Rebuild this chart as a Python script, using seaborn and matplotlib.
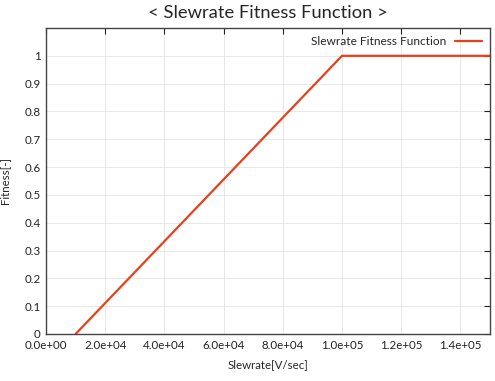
import numpy as np
import pandas as pd
import matplotlib
matplotlib.use("Agg")
import matplotlib.pyplot as plt
import seaborn as sns

# breakpoints of the fitness curve
slewrate = [1.0e4, 1.0e5, 1.5e5]
fitness = [0.0, 1.0, 1.0]
xticks = [0, 2e4, 4e4, 6e4, 8e4, 1e5, 1.2e5, 1.4e5]
xtick_labels = ["0.0e+00", "2.0e+04", "4.0e+04", "6.0e+04", "8.0e+04",
                "1.0e+05", "1.2e+05", "1.4e+05"]
yticks = [0, 0.1, 0.2, 0.3, 0.4, 0.5, 0.6, 0.7, 0.8, 0.9, 1]
ytick_labels = ["0", "0.1", "0.2", "0.3", "0.4", "0.5", "0.6", "0.7", "0.8", "0.9", "1"]

df = pd.DataFrame({"Slewrate": slewrate, "Fitness": fitness})

sns.set_style("white")
plt.rcParams['font.family'] = ['Lato', 'DejaVu Sans']

fig = plt.figure(figsize=(4.95, 3.81), dpi=100)
ax = fig.add_axes([46/495, 1 - 334/381, 444/495, 306/381])

sns.lineplot(data=df, x="Slewrate", y="Fitness", color="#e8401c", lw=1.6,
             label="Slewrate Fitness Function", ax=ax)

ax.set_xlim(0, 1.5e5)
ax.set_ylim(0, 1.1)
ax.set_xticks(xticks)
ax.set_xticklabels(xtick_labels)
ax.set_yticks(yticks)
ax.set_yticklabels(ytick_labels)
ax.grid(True, color="#e8e8e8", lw=0.7)
ax.tick_params(direction="in", top=True, right=True, length=4, width=0.8,
               labelsize=8.3, colors="#222222", pad=4)
for s in ax.spines.values():
    s.set_color("#444444")
    s.set_linewidth(1.0)

ax.set_xlabel("Slewrate[V/sec]", fontsize=8.3, labelpad=6)
ax.set_ylabel("Fitness[-]", fontsize=8.3, labelpad=10)
ax.set_title("< Slewrate Fitness Function >", fontsize=13.2, pad=7)

ax.legend(loc="upper right", frameon=False, markerfirst=False, fontsize=8.6,
          handlelength=2.2, borderaxespad=0.3)

fig.savefig("out.png", dpi=100)
